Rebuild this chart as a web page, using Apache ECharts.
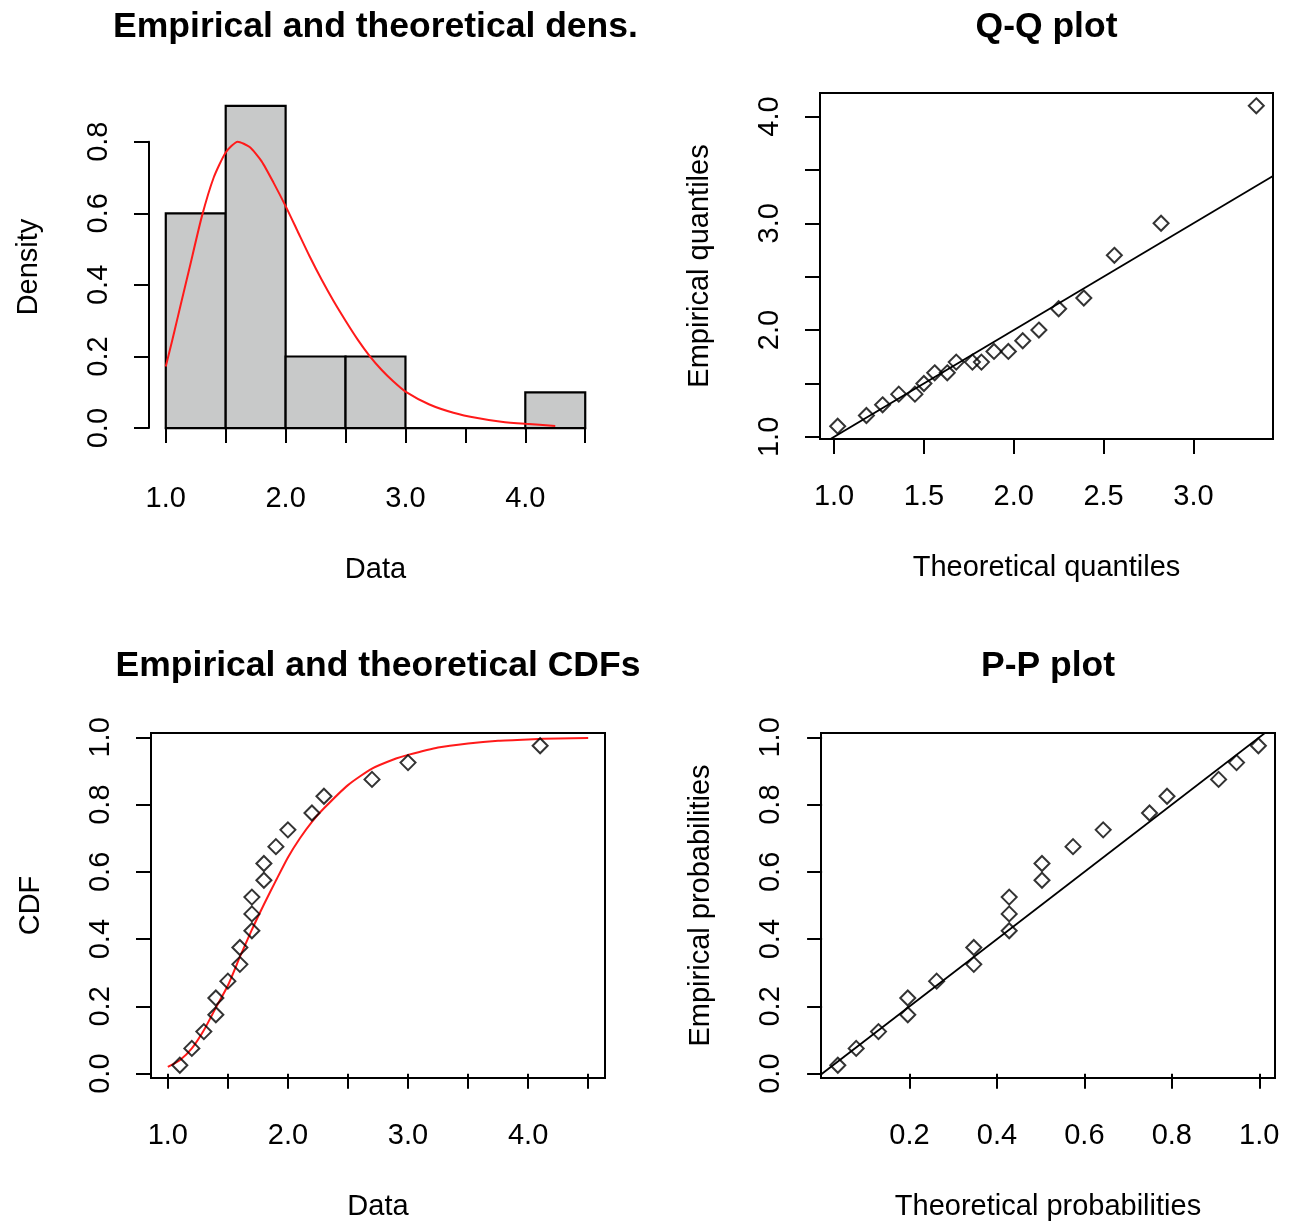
<!DOCTYPE html>
<html>
<head>
<meta charset="utf-8">
<title>Goodness-of-fit plots</title>
<script src="https://cdn.jsdelivr.net/npm/echarts@6/dist/echarts.min.js"></script>
<style>
    html, body { margin: 0; padding: 0; background: #ffffff; }
    #chart { width: 1290px; height: 1225px; }
</style>
</head>
<body>
<div id="chart"></div>
<script>
// sorted sample (20 values)
var sample = [1.1, 1.2, 1.3, 1.4, 1.4, 1.5, 1.6, 1.6, 1.7, 1.7, 1.7, 1.8, 1.8, 1.9, 2.0, 2.2, 2.3, 2.7, 3.0, 4.1];
// plotting positions of the sample
var empProb = [0.025, 0.075, 0.125, 0.175, 0.225, 0.275, 0.325, 0.375, 0.425, 0.475,
               0.525, 0.575, 0.625, 0.675, 0.725, 0.775, 0.825, 0.875, 0.925, 0.975];
// theoretical quantiles (Q-Q x) and probabilities (P-P x)
var theoQuant = [1.02, 1.18, 1.27, 1.36, 1.45, 1.50, 1.56, 1.63, 1.68, 1.77,
                 1.82, 1.89, 1.97, 2.05, 2.14, 2.25, 2.39, 2.56, 2.82, 3.35];
var theoProb = [0.036, 0.078, 0.129, 0.196, 0.196, 0.262, 0.347, 0.347, 0.428, 0.428,
                0.428, 0.503, 0.503, 0.574, 0.643, 0.749, 0.789, 0.907, 0.948, 0.998];
// histogram
var histBreaks = [1.0, 1.5, 2.0, 2.5, 3.0, 3.5, 4.0, 4.5];
var histDensity = [0.6, 0.9, 0.2, 0.2, 0, 0, 0.1];
// fitted density (red curve)
var densX = [1.0, 1.05, 1.1, 1.15, 1.2, 1.3, 1.4, 1.5, 1.6, 1.7, 1.8, 1.9, 2.0, 2.1, 2.2,
             2.3, 2.4, 2.5, 2.6, 2.7, 2.8, 2.9, 3.0, 3.2, 3.4, 3.6, 3.8, 4.0, 4.25];
var densY = [0.172, 0.24, 0.31, 0.38, 0.45, 0.59, 0.70, 0.77, 0.80, 0.785, 0.745, 0.685, 0.62, 0.55, 0.48,
             0.415, 0.355, 0.30, 0.248, 0.202, 0.163, 0.13, 0.102, 0.066, 0.043, 0.028, 0.018, 0.012, 0.006];
// fitted cdf (red curve)
var cdfX = [1.0, 1.1, 1.2, 1.3, 1.4, 1.5, 1.6, 1.7, 1.8, 1.9, 2.0, 2.1, 2.2, 2.3,
            2.5, 2.7, 2.9, 3.0, 3.25, 3.5, 3.75, 4.0, 4.25, 4.5];
var cdfY = [0.02, 0.04, 0.075, 0.129, 0.196, 0.262, 0.347, 0.428, 0.503, 0.574, 0.643, 0.70, 0.749, 0.789,
            0.858, 0.907, 0.937, 0.948, 0.970, 0.982, 0.990, 0.994, 0.997, 0.998];
// ticks and labels
var histXTicks = [1.0, 1.5, 2.0, 2.5, 3.0, 3.5, 4.0, 4.5];
var histXLabels = [1.0, 2.0, 3.0, 4.0];
var histYTicks = [0, 0.2, 0.4, 0.6, 0.8];
var qqXTicks = [1.0, 1.5, 2.0, 2.5, 3.0];
var qqYTicks = [1.0, 1.5, 2.0, 2.5, 3.0, 3.5, 4.0];
var qqYLabels = [1.0, 2.0, 3.0, 4.0];
var cdfYTicks = [0, 0.2, 0.4, 0.6, 0.8, 1.0];
var ppXTicks = [0.2, 0.4, 0.6, 0.8, 1.0];
var ppYTicks = [0, 0.2, 0.4, 0.6, 0.8, 1.0];

var FONT = "'Liberation Sans', Arial, sans-serif";
var LABEL_SIZE = 29;
var TITLE_SIZE = 35.5;

// plot regions in pixels, with the axis limits R used (range + 4%)
var panels = [
    { left: 149, right: 602, top: 93, bottom: 441, xlim: [0.86, 4.64], ylim: [-0.036, 0.936] },
    { left: 820, right: 1273, top: 93, bottom: 439, xlim: [0.9216, 3.443], ylim: [0.98, 4.22] },
    { left: 151, right: 605, top: 733, bottom: 1078, xlim: [0.86, 4.64], ylim: [-0.013, 1.013] },
    { left: 821, right: 1275, top: 733, bottom: 1078, xlim: [-0.0025, 1.036], ylim: [-0.013, 1.013] }
];

function zip(a, b) {
    var out = [];
    for (var i = 0; i < a.length; i++) {
        out.push([a[i], b[i]]);
    }
    return out;
}

function fmt(v) {
    return Number(v).toFixed(1);
}

function px(p, v) {
    return p.left + (v - p.xlim[0]) / (p.xlim[1] - p.xlim[0]) * (p.right - p.left);
}

function py(p, v) {
    return p.bottom - (v - p.ylim[0]) / (p.ylim[1] - p.ylim[0]) * (p.bottom - p.top);
}

function textStyle(size, bold) {
    return { fontFamily: FONT, fontSize: size, fontWeight: bold ? "bold" : "normal", color: "#000" };
}

function axis(dim, gridIndex, min, max, ticks, labels, name, opts) {
    opts = opts || {};
    var nameStyle = textStyle(LABEL_SIZE, false);
    if (opts.namePadding) {
        nameStyle.padding = opts.namePadding;
    }
    return {
        type: "value",
        gridIndex: gridIndex,
        min: min,
        max: max,
        offset: opts.offset || 0,
        splitLine: { show: false },
        axisLine: { show: !!opts.line, lineStyle: { color: "#000", width: 2 } },
        axisTick: { show: true, inside: false, length: 15, customValues: ticks,
                    lineStyle: { color: "#000", width: 2 } },
        axisLabel: {
            customValues: labels,
            formatter: fmt,
            margin: dim == "x" ? 43 : 36,
            rotate: dim == "x" ? 0 : 90,
            fontFamily: FONT,
            fontSize: LABEL_SIZE,
            color: "#000"
        },
        name: name,
        nameLocation: "middle",
        nameGap: dim == "x" ? 114 : 106,
        nameTextStyle: nameStyle
    };
}

// the histogram panel has no box: its axes only span the tick range
var hp = panels[0];
var histGrid = {
    left: px(hp, 1.0),
    top: py(hp, 0.8),
    width: px(hp, 4.5) - px(hp, 1.0),
    height: py(hp, 0) - py(hp, 0.8),
    show: false
};
var histXOffset = hp.bottom - py(hp, 0);
var histYOffset = px(hp, 1.0) - hp.left;
// "Density" is centred on the plot region, not on the 0-0.8 axis
var densNameShift = 2 * ((py(hp, 0) + py(hp, 0.8)) / 2 - (hp.top + hp.bottom) / 2);

function boxGrid(p) {
    return {
        left: p.left,
        top: p.top,
        width: p.right - p.left,
        height: p.bottom - p.top,
        show: true,
        backgroundColor: "transparent",
        borderColor: "#000",
        borderWidth: 2
    };
}

var grids = [histGrid, boxGrid(panels[1]), boxGrid(panels[2]), boxGrid(panels[3])];

var xAxes = [
    axis("x", 0, 1.0, 4.5, histXTicks, histXLabels, "Data", { line: true, offset: histXOffset }),
    axis("x", 1, panels[1].xlim[0], panels[1].xlim[1], qqXTicks, qqXTicks, "Theoretical quantiles"),
    axis("x", 2, panels[2].xlim[0], panels[2].xlim[1], histXTicks, histXLabels, "Data"),
    axis("x", 3, panels[3].xlim[0], panels[3].xlim[1], ppXTicks, ppXTicks, "Theoretical probabilities")
];
var yAxes = [
    axis("y", 0, 0, 0.8, histYTicks, histYTicks, "Density",
         { line: true, offset: histYOffset, namePadding: [0, 0, 0, densNameShift] }),
    axis("y", 1, panels[1].ylim[0], panels[1].ylim[1], qqYTicks, qqYLabels, "Empirical quantiles"),
    axis("y", 2, panels[2].ylim[0], panels[2].ylim[1], cdfYTicks, cdfYTicks, "CDF"),
    axis("y", 3, panels[3].ylim[0], panels[3].ylim[1], ppYTicks, ppYTicks, "Empirical probabilities")
];

var titleNames = ["Empirical and theoretical dens.", "Q-Q plot", "Empirical and theoretical CDFs", "P-P plot"];
var titles = [];
for (var t = 0; t < 4; t++) {
    var p = panels[t];
    titles.push({
        text: titleNames[t],
        left: (p.left + p.right) / 2,
        top: t < 2 ? 9 : 648,
        textAlign: "center",
        padding: 0,
        textStyle: textStyle(TITLE_SIZE, true)
    });
}

var histBars = [];
for (var i = 0; i < histDensity.length; i++) {
    histBars.push([histBreaks[i], histBreaks[i + 1], histDensity[i]]);
}

function scatter(idx, data) {
    return {
        type: "scatter",
        xAxisIndex: idx,
        yAxisIndex: idx,
        data: data,
        symbol: "diamond",
        symbolSize: 15,
        itemStyle: { color: "rgba(0,0,0,0)", borderColor: "#000", borderWidth: 2 },
        z: 3
    };
}

function curve(idx, data, color, width) {
    return {
        type: "line",
        xAxisIndex: idx,
        yAxisIndex: idx,
        data: data,
        showSymbol: false,
        symbol: "none",
        smooth: 0.2,
        clip: idx != 0,
        lineStyle: { color: color, width: width },
        z: 2
    };
}

// y = x reference line over the full axis range
function diagonal(idx) {
    var lim = panels[idx].xlim;
    var s = curve(idx, [[lim[0], lim[0]], [lim[1], lim[1]]], "#000", 1.8);
    s.smooth = false;
    return s;
}

var series = [
    {
        type: "custom",
        xAxisIndex: 0,
        yAxisIndex: 0,
        data: histBars,
        clip: false,
        encode: { x: [0, 1], y: 2 },
        renderItem: function(params, api) {
            var p0 = api.coord([api.value(0), 0]);
            var p1 = api.coord([api.value(1), api.value(2)]);
            return {
                type: "rect",
                shape: { x: p0[0], y: p1[1], width: p1[0] - p0[0], height: p0[1] - p1[1] },
                style: { fill: "#c8c9c9", stroke: "#000", lineWidth: 2.2 }
            };
        },
        z: 1
    },
    curve(0, zip(densX, densY), "#ff1a1a", 2),
    scatter(1, zip(theoQuant, sample)),
    diagonal(1),
    curve(2, zip(cdfX, cdfY), "#ff1a1a", 2),
    scatter(2, zip(sample, empProb)),
    scatter(3, zip(theoProb, empProb)),
    diagonal(3)
];

var chart = echarts.init(document.getElementById("chart"), null, { renderer: "canvas" });
chart.setOption({
    animation: false,
    backgroundColor: "#ffffff",
    title: titles,
    grid: grids,
    xAxis: xAxes,
    yAxis: yAxes,
    series: series
});
</script>
</body>
</html>
